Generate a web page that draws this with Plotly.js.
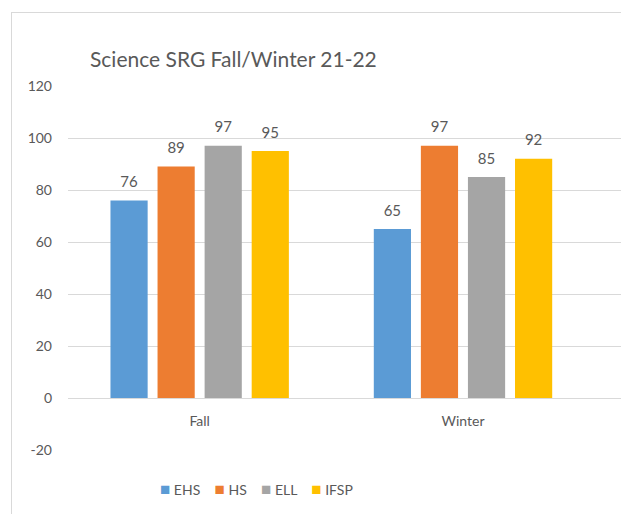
<!DOCTYPE html>
<html>
<head>
<meta charset="utf-8">
<script src="https://cdn.plot.ly/plotly-3.0.1.min.js"></script>
<style>
  html, body { margin: 0; padding: 0; background: #ffffff; }
  #wrap { position: relative; width: 621px; height: 514px; overflow: hidden; }
  #frame { position: absolute; left: 11px; top: 12px; width: 700px; height: 600px; border: 1px solid #d9d9d9; box-sizing: border-box; }
  #chart { position: absolute; left: 0; top: 0; width: 621px; height: 514px; }
</style>
</head>
<body>
<div id="wrap">
  <div id="frame"></div>
  <div id="chart"></div>
</div>
<script>
// ---- data ----
const categories = ['Fall', 'Winter'];
const seriesNames = ['EHS', 'HS', 'ELL', 'IFSP'];
const EHS = [76, 65];
const HS = [89, 97];
const ELL = [97, 85];
const IFSP = [95, 92];
const yTickValues = [-20, 0, 20, 40, 60, 80, 100, 120];
const yTickLabels = ['-20', '0', '20', '40', '60', '80', '100', '120'];
const chartTitle = 'Science SRG Fall/Winter 21-22';

// ---- styles ----
const colors = ['#5b9bd5', '#ed7d31', '#a5a5a5', '#ffc000'];
const textColor = '#595959';
const fontFamily = 'Lato, "Open Sans", sans-serif';
const seriesValues = [EHS, HS, ELL, IFSP];
const gap = 0.285;

const traces = [];
seriesValues.forEach((vals, i) => {
  traces.push({
    type: 'bar',
    name: seriesNames[i],
    x: categories,
    y: vals,
    marker: { color: colors[i] },
    hoverinfo: 'x+y+name'
  });
});
seriesValues.forEach((vals, i) => {
  traces.push({
    type: 'scatter',
    mode: 'markers+text',
    name: seriesNames[i] + ' label',
    x: categories,
    y: vals,
    text: vals.map(String),
    textposition: 'top center',
    textfont: { family: fontFamily, size: 15, color: textColor },
    marker: { size: 14, opacity: 0 },
    showlegend: false,
    hoverinfo: 'skip',
    cliponaxis: false
  });
});

const legendText = seriesNames.map((n, i) =>
  '<span style="color:' + colors[i] + ';font-size:17px">■</span>\u00a0' + n)
  .join('\u00a0\u00a0\u00a0\u00a0');

const layout = {
  width: 621,
  height: 514,
  margin: { l: 68, r: 0, t: 86, b: 64 },
  paper_bgcolor: 'rgba(0,0,0,0)',
  plot_bgcolor: 'rgba(0,0,0,0)',
  barmode: 'group',
  bargap: gap,
  bargroupgap: 0.21,
  scattermode: 'group',
  scattergap: gap,
  showlegend: false,
  font: { family: fontFamily, color: textColor },
  title: {
    text: chartTitle,
    font: { family: fontFamily, size: 21, color: textColor },
    xref: 'container', yref: 'container',
    x: 90 / 621, xanchor: 'left',
    y: 1 - 60 / 514, yanchor: 'middle'
  },
  xaxis: {
    type: 'category',
    range: [-0.5, 1.6],
    anchor: 'free',
    position: 20 / 140,
    showgrid: false,
    showline: false,
    zeroline: false,
    ticks: '',
    ticklabelstandoff: 13,
    tickfont: { family: fontFamily, size: 14, color: textColor }
  },
  yaxis: {
    range: [-20, 120],
    tickvals: yTickValues,
    ticktext: yTickLabels,
    showgrid: true,
    gridcolor: '#d9d9d9',
    gridwidth: 1,
    zeroline: true,
    zerolinecolor: '#d9d9d9',
    zerolinewidth: 1,
    showline: false,
    ticks: '',
    ticklabelstandoff: 15,
    tickfont: { family: fontFamily, size: 14, color: textColor }
  },
  annotations: [{
    xref: 'paper', yref: 'paper',
    x: (256 - 68) / 553, y: (450 - 488) / 364,
    xanchor: 'center', yanchor: 'middle',
    showarrow: false,
    text: legendText,
    font: { family: fontFamily, size: 14, color: textColor }
  }]
};

Plotly.newPlot('chart', traces, layout, { displayModeBar: false, responsive: false });
</script>
</body>
</html>
